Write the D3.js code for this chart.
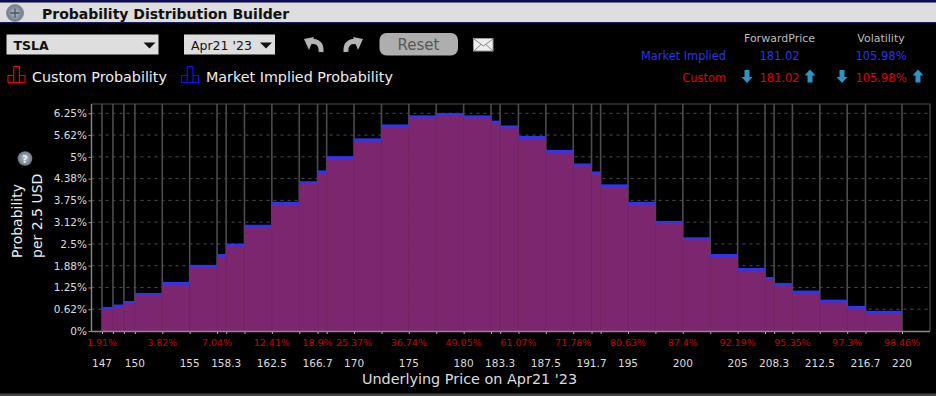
<!DOCTYPE html>
<html>
<head>
<meta charset="utf-8">
<script src="https://cdn.jsdelivr.net/npm/d3@7"></script>
<style>
  html, body { margin: 0; padding: 0; background: #000; overflow: hidden; }
  text { font-family: "DejaVu Sans", sans-serif; }
</style>
</head>
<body>
<svg id="chart" width="936" height="396"></svg>
<script>
// bin edges of the histogram (USD)
const edges = [147, 148, 149, 150, 152.5, 155, 157.5, 158.33, 160, 162.5, 165, 166.67, 167.5, 170, 172.5, 175,
  177.5, 180, 182.5, 183.33, 185, 187.5, 190, 191.67, 192.5, 195, 197.5, 200, 202.5, 205, 207.5, 208.33, 210,
  212.5, 215, 216.67, 220];
// probability per bin (%)
const probabilities = [0.65, 0.72, 0.82, 1.05, 1.37, 1.86, 2.17, 2.47, 3.01, 3.67, 4.26, 4.57, 4.98, 5.49, 5.89, 6.15,
  6.22, 6.15, 6.0, 5.86, 5.56, 5.16, 4.77, 4.54, 4.17, 3.67, 3.12, 2.65, 2.17, 1.77, 1.51, 1.34, 1.12,
  0.86, 0.68, 0.54];
const yTicks = [0, 0.625, 1.25, 1.875, 2.5, 3.125, 3.75, 4.375, 5, 5.625, 6.25];
const yLabels = ["0%", "0.62%", "1.25%", "1.88%", "2.5%", "3.12%", "3.75%", "4.38%", "5%", "5.62%", "6.25%"];
const priceTicks = [147, 150, 155, 158.33, 162.5, 166.67, 170, 175, 180, 183.33, 187.5, 191.67, 195, 200, 205, 208.33, 212.5, 216.67, 220];
const priceLabels = ["147", "150", "155", "158.3", "162.5", "166.7", "170", "175", "180", "183.3", "187.5", "191.7", "195", "200", "205", "208.3", "212.5", "216.7", "220"];
const cumPrices = [147, 152.5, 157.5, 162.5, 166.67, 170, 175, 180, 185, 190, 195, 200, 205, 210, 215, 220];
const cumLabels = ["1.91%", "3.82%", "7.04%", "12.41%", "18.9%", "25.37%", "36.74%", "49.05%", "61.07%", "71.78%", "80.63%", "87.4%", "92.19%", "95.35%", "97.3%", "98.46%"];

const plot = { left: 91.5, right: 930, top: 104, bottom: 331 };

const svg = d3.select("#chart");
const x = d3.scaleLinear().domain([147, 220]).range([102, 902]);
const y = d3.scaleLinear().domain([0, 6.25]).range([plot.bottom, 113.3]);

const bins = probabilities.map((p, i) => ({ x0: edges[i], x1: edges[i + 1], p: p }));

// ---- title bar ----
svg.append("rect").attr("width", 936).attr("height", 2.5).attr("fill", "#0b0b55");
svg.append("rect").attr("y", 2.5).attr("width", 936).attr("height", 19.5).attr("fill", "#dedede");
svg.append("rect").attr("y", 22).attr("width", 936).attr("height", 1.2).attr("fill", "#1c1c6a");

const defs = svg.append("defs");
const knob = defs.append("radialGradient").attr("id", "knob");
knob.append("stop").attr("offset", "0%").attr("stop-color", "#b5c0d0");
knob.append("stop").attr("offset", "100%").attr("stop-color", "#6d7886");

svg.append("circle").attr("cx", 15).attr("cy", 13).attr("r", 8.5).attr("fill", "url(#knob)").attr("stroke", "#8a8f96");
svg.append("path").attr("d", "M10.5 13H19.5M15 8.5V17.5").attr("stroke", "#4a5260").attr("stroke-width", 1.3);
svg.append("text").attr("x", 42).attr("y", 19).attr("font-size", 14).attr("font-weight", "bold").attr("fill", "#111")
  .text("Probability Distribution Builder");

// ---- controls ----
function dropdown(x0, w, label, bold) {
  svg.append("rect").attr("x", x0).attr("y", 34.5).attr("width", w).attr("height", 20).attr("fill", "#dedede");
  svg.append("text").attr("x", x0 + 7).attr("y", 50).attr("font-size", 12.5).attr("fill", "#111")
    .attr("font-weight", bold ? "bold" : "normal").text(label);
  svg.append("path").attr("d", `M${x0 + w - 15} 42.5h12l-6 6z`).attr("fill", "#111");
}
dropdown(6.5, 152, "TSLA", true);
dropdown(184, 91, "Apr21 '23", false);

svg.append("path").attr("fill", "none").attr("stroke", "#b4b4b4").attr("stroke-width", 5)
  .attr("d", "M321 52C322 43 315 39 308 43");
svg.append("path").attr("fill", "#b4b4b4").attr("d", "M304 39L314 37L309 50Z");
svg.append("path").attr("fill", "none").attr("stroke", "#b4b4b4").attr("stroke-width", 5)
  .attr("d", "M346 52C345 43 352 39 359 43");
svg.append("path").attr("fill", "#b4b4b4").attr("d", "M363 39L353 37L358 50Z");

svg.append("rect").attr("x", 379.5).attr("y", 33).attr("width", 78.5).attr("height", 22.5).attr("rx", 7).attr("fill", "#aeaeae");
svg.append("text").attr("x", 418.5).attr("y", 50).attr("text-anchor", "middle").attr("font-size", 15).attr("fill", "#585858").text("Reset");

svg.append("rect").attr("x", 473.5).attr("y", 38.5).attr("width", 19.5).attr("height", 12.5).attr("fill", "#eee").attr("stroke", "#999");
svg.append("path").attr("d", "M474 39L483.5 46L493 39M474 51L481 44.5M493 51L486 44.5").attr("fill", "none").attr("stroke", "#888");

// ---- legend ----
function legendIcon(x0, color) {
  svg.append("path").attr("fill", "none").attr("stroke", color).attr("stroke-width", 1.2)
    .attr("d", `M${x0} 82.5V75.5H${x0 + 5.7}V66.5H${x0 + 11.4}V75.5H${x0 + 17}V82.5ZM${x0 + 5.7} 75.5V82.5M${x0 + 11.4} 75.5V82.5`);
}
legendIcon(8, "#f00000");
legendIcon(181.5, "#1010f0");
svg.append("text").attr("x", 32).attr("y", 81.5).attr("font-size", 14.3).attr("fill", "#eee").text("Custom Probability");
svg.append("text").attr("x", 206).attr("y", 81.5).attr("font-size", 14.3).attr("fill", "#eee").text("Market Implied Probability");

// ---- summary table ----
const blue = "#2a35e8", red = "#e00000";
svg.append("text").attr("x", 779.5).attr("y", 42).attr("text-anchor", "middle").attr("font-size", 11).attr("fill", "#bbb").text("ForwardPrice");
svg.append("text").attr("x", 881).attr("y", 42).attr("text-anchor", "middle").attr("font-size", 11).attr("fill", "#bbb").text("Volatility");
svg.append("text").attr("x", 726).attr("y", 60).attr("text-anchor", "end").attr("font-size", 11.4).attr("fill", blue).text("Market Implied");
svg.append("text").attr("x", 779.5).attr("y", 60).attr("text-anchor", "middle").attr("font-size", 11.5).attr("fill", blue).text("181.02");
svg.append("text").attr("x", 881).attr("y", 60).attr("text-anchor", "middle").attr("font-size", 11.5).attr("fill", blue).text("105.98%");
svg.append("text").attr("x", 726).attr("y", 81.5).attr("text-anchor", "end").attr("font-size", 11.4).attr("fill", red).text("Custom");
svg.append("text").attr("x", 779.5).attr("y", 81.5).attr("text-anchor", "middle").attr("font-size", 11.5).attr("fill", red).text("181.02");
svg.append("text").attr("x", 881).attr("y", 81.5).attr("text-anchor", "middle").attr("font-size", 11.5).attr("fill", red).text("105.98%");

function arrow(cx, up) {
  const d = up
    ? `M${cx} 69.5l5.5 6h-3v7h-5v-7h-3z`
    : `M${cx} 83l5.5 -6h-3v-7h-5v7h-3z`;
  svg.append("path").attr("d", d).attr("fill", "#2f93c4");
}
arrow(747, false);
arrow(810, true);
arrow(842, false);
arrow(918, true);

// ---- plot frame and grid ----
const gridColor = "#4c4c4c";
svg.append("g").selectAll("line").data(yTicks.slice(1)).join("line")
  .attr("x1", plot.left).attr("x2", plot.right)
  .attr("y1", (d) => y(d)).attr("y2", (d) => y(d))
  .attr("stroke", gridColor).attr("stroke-width", 1).attr("stroke-dasharray", "3,4");

svg.append("g").selectAll("line").data(edges).join("line")
  .attr("x1", (d) => x(d)).attr("x2", (d) => x(d))
  .attr("y1", plot.top).attr("y2", plot.bottom)
  .attr("stroke", gridColor).attr("stroke-width", 1.6);

svg.append("path").attr("fill", "none").attr("stroke", gridColor).attr("stroke-width", 1.2)
  .attr("d", `M${plot.left} ${plot.top}H${plot.right}V${plot.bottom}`);

// ---- bars ----
svg.append("g").selectAll("rect").data(bins).join("rect")
  .attr("x", (d) => x(d.x0))
  .attr("y", (d) => y(d.p))
  .attr("width", (d) => x(d.x1) - x(d.x0))
  .attr("height", (d) => plot.bottom - y(d.p))
  .attr("fill", "#7d2670");

svg.append("g").selectAll("line").data(edges.slice(1, -1)).join("line")
  .attr("x1", (d) => x(d)).attr("x2", (d) => x(d))
  .attr("y1", (d) => y(Math.min(probabilities[edges.indexOf(d)], probabilities[edges.indexOf(d) - 1]))).attr("y2", plot.bottom)
  .attr("stroke", "#76245f").attr("stroke-width", 1);

svg.append("g").selectAll("rect").data(bins).join("rect")
  .attr("x", (d) => x(d.x0))
  .attr("y", (d) => y(d.p) - 1.4)
  .attr("width", (d) => x(d.x1) - x(d.x0))
  .attr("height", 2.8)
  .attr("fill", "#2e35f2");

// ---- axes ----
const yAxis = svg.append("g")
  .attr("transform", `translate(${plot.left}, 0)`)
  .call(d3.axisLeft(y).tickValues(yTicks).tickSize(3).tickFormat((d, i) => yLabels[i]));
yAxis.select(".domain").remove();
yAxis.selectAll("line").attr("stroke", "#999");
yAxis.selectAll("text").attr("fill", "#ddd").attr("font-size", 10.5).attr("font-family", "DejaVu Sans").attr("dx", "1.5");
svg.append("line").attr("x1", plot.left).attr("x2", plot.left).attr("y1", plot.top).attr("y2", plot.bottom + 0.5)
  .attr("stroke", "#8a8a8a").attr("stroke-width", 1.4);

const xAxis = svg.append("g")
  .attr("transform", `translate(0, ${plot.bottom})`)
  .call(d3.axisBottom(x).tickValues(edges).tickSize(3).tickFormat(""));
xAxis.select(".domain").remove();
xAxis.selectAll("line").attr("stroke", "#bbb");
svg.append("line").attr("x1", plot.left).attr("x2", plot.right).attr("y1", plot.bottom + 0.5).attr("y2", plot.bottom + 0.5)
  .attr("stroke", "#8a8a8a").attr("stroke-width", 1.4);

svg.append("g").selectAll("text").data(cumPrices).join("text")
  .attr("x", (d) => x(d)).attr("y", 346).attr("text-anchor", "middle")
  .attr("font-size", 9.5).attr("fill", "#cc0000")
  .text((d, i) => cumLabels[i]);

svg.append("g").selectAll("text").data(priceTicks).join("text")
  .attr("x", (d) => x(d)).attr("y", 367).attr("text-anchor", "middle")
  .attr("font-size", 10.5).attr("fill", "#ddd")
  .text((d, i) => priceLabels[i]);

svg.append("text").attr("x", 469.5).attr("y", 384).attr("text-anchor", "middle")
  .attr("font-size", 14.4).attr("fill", "#ddd").text("Underlying Price on Apr21 '23");

// both lines of the y title start at the same height
svg.append("text").attr("transform", "translate(22, 258) rotate(-90)")
  .attr("font-size", 14).attr("fill", "#eee").text("Probability");
svg.append("text").attr("transform", "translate(41.5, 258) rotate(-90)")
  .attr("font-size", 14).attr("fill", "#eee").text("per 2.5 USD");

svg.append("circle").attr("cx", 25).attr("cy", 158.5).attr("r", 7.3).attr("fill", "url(#knob)");
svg.append("text").attr("x", 25).attr("y", 162.5).attr("text-anchor", "middle").attr("font-size", 10).attr("font-weight", "bold").attr("fill", "#eee").text("?");

// bottom edge of the window
svg.append("rect").attr("y", 393.5).attr("width", 936).attr("height", 2.5).attr("fill", "#444");
</script>
</body>
</html>
